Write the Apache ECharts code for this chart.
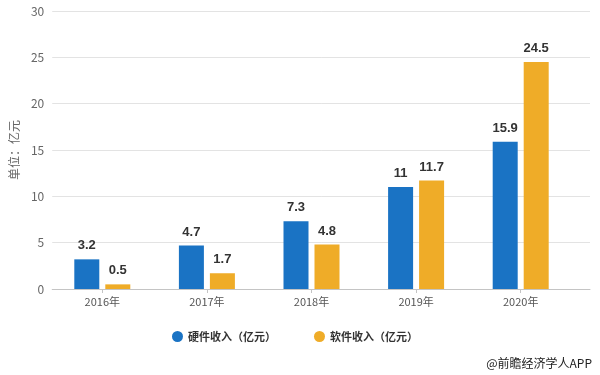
<!DOCTYPE html>
<html>
<head>
<meta charset="utf-8">
<script src="https://cdn.jsdelivr.net/npm/echarts@6/dist/echarts.min.js"></script>
<style>
  html, body { margin: 0; padding: 0; background: #fff; }
  #main { width: 600px; height: 375px; }
</style>
</head>
<body>
<div id="main"></div>
<script>
var years = ['2016年', '2017年', '2018年', '2019年', '2020年'];
var hardware = [3.2, 4.7, 7.3, 11, 15.9];
var software = [0.5, 1.7, 4.8, 11.7, 24.5];
var seriesNames = ['硬件收入（亿元）', '软件收入（亿元）'];

var myChart = echarts.init(document.getElementById('main'));

var labelStyle = {
  show: true,
  position: 'top',
  distance: 7,
  color: '#333',
  fontSize: 13,
  fontWeight: 'bold',
  fontFamily: 'Arial, sans-serif'
};

var option = {
  backgroundColor: '#fff',
  textStyle: { fontFamily: '"Noto Sans CJK SC", sans-serif' },
  legend: {
    data: seriesNames,
    bottom: 28,
    left: 167,
    icon: 'circle',
    itemWidth: 11,
    itemHeight: 11,
    itemGap: 38,
    textStyle: { color: '#333', fontSize: 11, fontWeight: 'bold' }
  },
  graphic: [{
    type: 'text',
    right: 8,
    bottom: 6,
    style: { text: '@前瞻经济学人APP', fill: '#222', fontSize: 12, fontFamily: '"Noto Sans CJK SC", sans-serif' }
  }],
  grid: [
    // grid 0: y labels, split lines and base line across full width
    { left: 40, right: 10, top: 11, height: 278 },
    // grid 1: the bars
    { left: 50, right: 27, top: 11, height: 278 }
  ],
  xAxis: [
    {
      gridIndex: 0, type: 'category', data: years,
      axisLine: { show: true, lineStyle: { color: '#c4c4c4' } },
      axisTick: { show: false },
      axisLabel: { show: false }
    },
    {
      gridIndex: 1,
      type: 'category',
      data: years,
      axisTick: { show: true, alignWithLabel: true, length: 4, lineStyle: { color: '#c4c4c4' } },
      axisLine: { show: false },
      axisLabel: { color: '#555', fontSize: 11, margin: 7 }
    }
  ],
  yAxis: [
    {
      gridIndex: 0,
      type: 'value',
      min: 0,
      max: 30,
      interval: 5,
      name: '单位：亿元',
      nameLocation: 'middle',
      nameGap: 28,
      nameTextStyle: { color: '#666', fontSize: 12 },
      axisLine: { show: false },
      axisTick: { show: false },
      axisLabel: { color: '#666', fontSize: 12, margin: 8 },
      splitLine: { lineStyle: { color: '#e3e3e3' } }
    },
    { gridIndex: 1, type: 'value', min: 0, max: 30, interval: 5, show: false, splitLine: { show: false } }
  ],
  series: [
    {
      name: seriesNames[0],
      type: 'bar',
      xAxisIndex: 1,
      yAxisIndex: 1,
      data: hardware,
      barWidth: 25,
      barGap: '24%',
      itemStyle: { color: '#1a73c4' },
      label: labelStyle
    },
    {
      name: seriesNames[1],
      type: 'bar',
      xAxisIndex: 1,
      yAxisIndex: 1,
      data: software,
      barWidth: 25,
      itemStyle: { color: '#efac28' },
      label: labelStyle
    }
  ]
};

myChart.setOption(option);
</script>
</body>
</html>
